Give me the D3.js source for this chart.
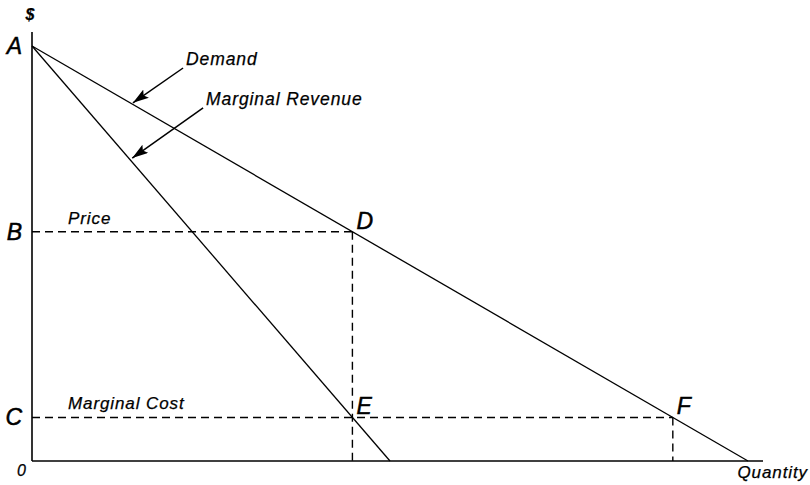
<!DOCTYPE html>
<html>
<head>
<meta charset="utf-8">
<script src="https://cdn.jsdelivr.net/npm/d3@7"></script>
<style>
  html, body { margin: 0; padding: 0; background: #fff; }
  svg text { font-family: "Liberation Sans", Arial, Helvetica, sans-serif; font-style: italic; fill: #000; stroke: #000; stroke-width: 0.25px; }
</style>
</head>
<body>
<div id="chart"></div>
<script>
// Curves (quantity, price)
const demand = [[0, 100], [100, 0]];
const marginalRevenue = [[0, 100], [50, 0]];

// Key levels
const priceLevel = 55.25;
const marginalCost = 10.5;
const monopolyQty = 44.75;
const competitiveQty = 89.5;

// Point labels
const axisLabels = [
  { text: 'A', p: 100 },
  { text: 'B', p: priceLevel },
  { text: 'C', p: marginalCost }
];
const pointLabels = [
  { text: 'D', q: monopolyQty, p: priceLevel },
  { text: 'E', q: monopolyQty, p: marginalCost },
  { text: 'F', q: competitiveQty, p: marginalCost }
];
const lineLabels = [
  { text: 'Price', p: priceLevel },
  { text: 'Marginal Cost', p: marginalCost }
];
// Annotation arrows: tail (q0,p0) to tip (q1,p1)
const arrows = [
  { text: 'Demand', q0: 21.1, p0: 94.7, q1: 14.1, p1: 86.3 },
  { text: 'Marginal Revenue', q0: 23.9, p0: 85.1, q1: 14.0, p1: 73.0 }
];

const width = 810, height = 485;
const x = d3.scaleLinear().domain([0, 100]).range([32, 748]);
const y = d3.scaleLinear().domain([0, 100]).range([461, 46]);

const svg = d3.select('#chart').append('svg')
  .attr('width', width)
  .attr('height', height);

const line = d3.line().x(d => x(d[0])).y(d => y(d[1]));

// Axes
svg.append('line')
  .attr('x1', x(0)).attr('y1', y(0))
  .attr('x2', x(102.1)).attr('y2', y(0))
  .style('stroke', '#000').style('stroke-width', 1.6);
svg.append('line')
  .attr('x1', x(0)).attr('y1', y(0))
  .attr('x2', x(0)).attr('y2', y(103.4))
  .style('stroke', '#000').style('stroke-width', 1.6);

// Dashed guide lines
const dash = '8,5';
const guides = [
  [[0, priceLevel], [monopolyQty, priceLevel]],
  [[0, marginalCost], [competitiveQty, marginalCost]],
  [[monopolyQty, priceLevel], [monopolyQty, 0]],
  [[competitiveQty, marginalCost], [competitiveQty, 0]]
];
svg.selectAll('path.guide')
  .data(guides)
  .enter()
  .append('path')
    .attr('class', 'guide')
    .attr('d', line)
    .style('fill', 'none')
    .style('stroke', '#000')
    .style('stroke-width', 1.4)
    .style('stroke-dasharray', dash);

// Demand and marginal revenue curves
svg.selectAll('path.curve')
  .data([demand, marginalRevenue])
  .enter()
  .append('path')
    .attr('class', 'curve')
    .attr('d', line)
    .style('fill', 'none')
    .style('stroke', '#000')
    .style('stroke-width', 1.3);

// Arrowhead marker
svg.append('defs').append('marker')
  .attr('id', 'head')
  .attr('viewBox', '0 0 16 10')
  .attr('refX', 16).attr('refY', 5)
  .attr('markerWidth', 16).attr('markerHeight', 10)
  .attr('markerUnits', 'userSpaceOnUse')
  .attr('orient', 'auto')
  .append('path')
    .attr('d', 'M0,0 L16,5 L0,10 L3,5 Z')
    .style('fill', '#000');

arrows.forEach(a => {
  svg.append('line')
    .attr('x1', x(a.q0)).attr('y1', y(a.p0))
    .attr('x2', x(a.q1)).attr('y2', y(a.p1))
    .style('stroke', '#000')
    .style('stroke-width', 1.5)
    .attr('marker-end', 'url(#head)');
  svg.append('text')
    .attr('x', x(a.q0) + 3)
    .attr('y', y(a.p0) - 3)
    .text(a.text)
    .style('font-size', '17.5px')
    .style('letter-spacing', '0.9px');
});

// Letters on the price axis
svg.selectAll('text.axisLetter')
  .data(axisLabels)
  .enter()
  .append('text')
    .attr('class', 'axisLetter')
    .attr('x', x(0) - 10)
    .attr('y', d => y(d.p) + 8)
    .attr('text-anchor', 'end')
    .text(d => d.text)
    .style('font-size', '23px')
    .style('stroke-width', '0.5px');

// Letters at the intersections
svg.selectAll('text.pointLetter')
  .data(pointLabels)
  .enter()
  .append('text')
    .attr('class', 'pointLetter')
    .attr('x', d => x(d.q) + 4)
    .attr('y', d => y(d.p) - 3)
    .text(d => d.text)
    .style('font-size', '23px')
    .style('stroke-width', '0.5px');

// Labels over the dashed lines
svg.selectAll('text.lineLabel')
  .data(lineLabels)
  .enter()
  .append('text')
    .attr('class', 'lineLabel')
    .attr('x', 68)
    .attr('y', d => y(d.p) - 8)
    .text(d => d.text)
    .style('font-size', '17px')
    .style('letter-spacing', '0.9px');

// Axis titles
svg.append('text')
  .attr('x', x(0) - 2)
  .attr('y', 20)
  .attr('text-anchor', 'middle')
  .text('$')
  .style('font-size', '16px')
  .style('font-weight', 'bold');
svg.append('text')
  .attr('x', x(0) - 6)
  .attr('y', y(0) + 15)
  .attr('text-anchor', 'end')
  .text('0')
  .style('font-size', '16px');
svg.append('text')
  .attr('x', 808)
  .attr('y', 478)
  .attr('text-anchor', 'end')
  .text('Quantity')
  .style('font-size', '17px')
  .style('letter-spacing', '0.9px');
</script>
</body>
</html>
